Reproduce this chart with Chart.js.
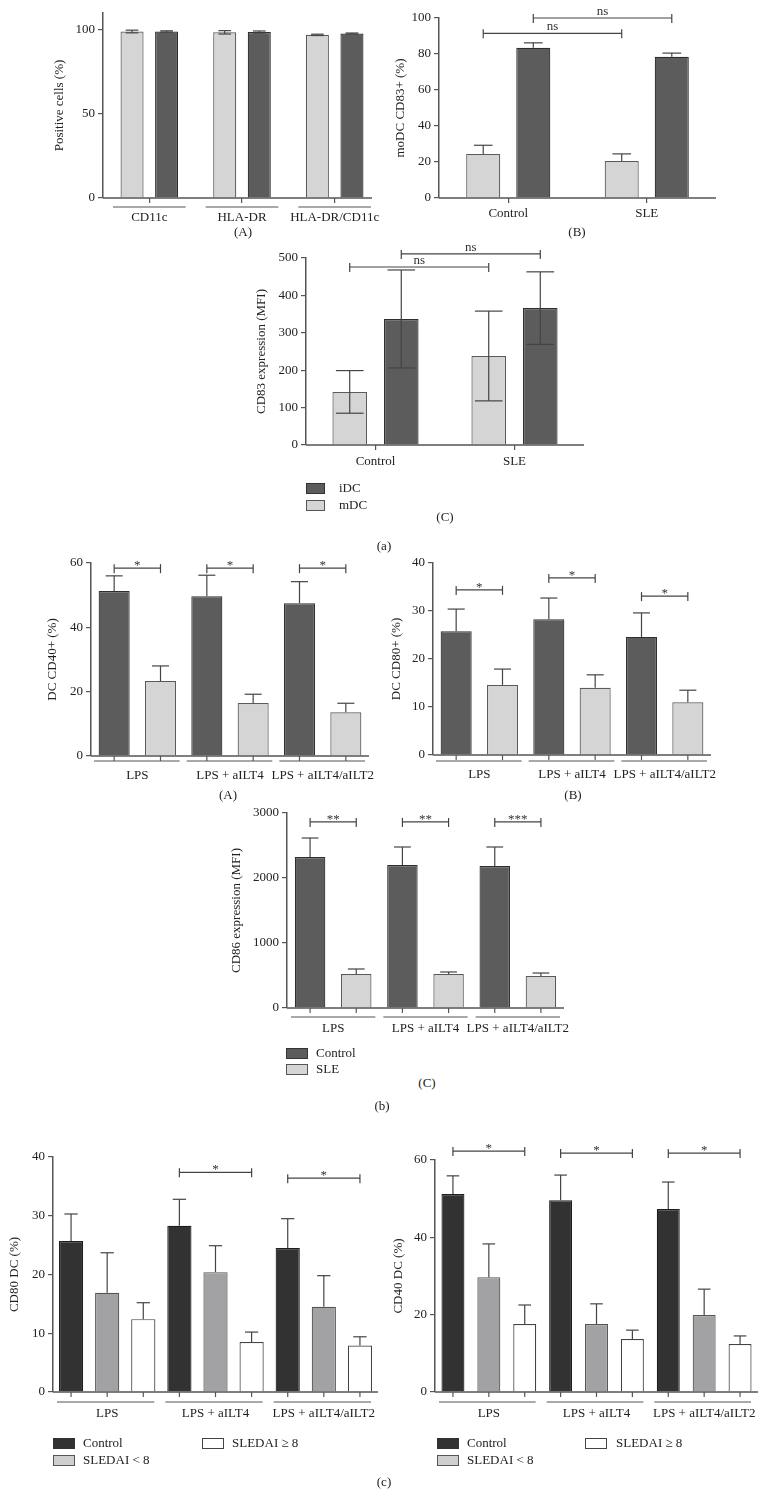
<!DOCTYPE html>
<html>
<head>
<meta charset="utf-8">
<script src="https://cdn.jsdelivr.net/npm/chart.js@4.4.1/dist/chart.umd.min.js"></script>
<style>
body{margin:0;background:#fff;width:768px;height:1510px;position:relative;overflow:hidden;font-family:'Liberation Serif','Times New Roman',serif;color:#222}
canvas{position:absolute}
.t{position:absolute;font-size:13px;transform:translate(-50%,-50%);white-space:nowrap;color:#222}
.lg{position:absolute;font-size:13px;white-space:nowrap;transform:translateY(-50%);color:#222}
.sw{position:absolute;box-sizing:border-box;border:1px solid #333;width:22px;height:11px}
</style>
</head>
<body>
<canvas id="aA"></canvas>
<canvas id="aB"></canvas>
<canvas id="aC"></canvas>
<canvas id="bA"></canvas>
<canvas id="bB"></canvas>
<canvas id="bC"></canvas>
<canvas id="cL"></canvas>
<canvas id="cR"></canvas>

<div class="t" style="left:243px;top:232px">(A)</div>
<div class="t" style="left:577px;top:232px">(B)</div>
<div class="t" style="left:445px;top:517px">(C)</div>
<div class="t" style="left:384px;top:546px">(a)</div>
<div class="t" style="left:228px;top:795px">(A)</div>
<div class="t" style="left:573px;top:795px">(B)</div>
<div class="t" style="left:427px;top:1083px">(C)</div>
<div class="t" style="left:382px;top:1106px">(b)</div>
<div class="t" style="left:384px;top:1482px">(c)</div>

<div class="sw" style="left:306px;top:483px;width:19px;background:#5c5c5c"></div>
<div class="lg" style="left:339px;top:488px">iDC</div>
<div class="sw" style="left:306px;top:500px;width:19px;background:#d5d5d5;border-color:#555"></div>
<div class="lg" style="left:339px;top:505px">mDC</div>

<div class="sw" style="left:286px;top:1048px;background:#5c5c5c"></div>
<div class="lg" style="left:316px;top:1053px">Control</div>
<div class="sw" style="left:286px;top:1064px;background:#d5d5d5;border-color:#555"></div>
<div class="lg" style="left:316px;top:1069px">SLE</div>

<div class="sw" style="left:53px;top:1438px;background:#323232"></div>
<div class="lg" style="left:83px;top:1443px">Control</div>
<div class="sw" style="left:53px;top:1455px;background:#cfcfcf;border-color:#555"></div>
<div class="lg" style="left:83px;top:1460px">SLEDAI &lt; 8</div>
<div class="sw" style="left:202px;top:1438px;background:#fff;border-color:#444"></div>
<div class="lg" style="left:232px;top:1443px">SLEDAI ≥ 8</div>

<div class="sw" style="left:437px;top:1438px;background:#323232"></div>
<div class="lg" style="left:467px;top:1443px">Control</div>
<div class="sw" style="left:437px;top:1455px;background:#cfcfcf;border-color:#555"></div>
<div class="lg" style="left:467px;top:1460px">SLEDAI &lt; 8</div>
<div class="sw" style="left:585px;top:1438px;background:#fff;border-color:#444"></div>
<div class="lg" style="left:616px;top:1443px">SLEDAI ≥ 8</div>

<script>
// (a)(A) phenotype
const phenoLabels = ['CD11c', 'HLA-DR', 'HLA-DR/CD11c'];
const phenoMdc = [99, 98.5, 97];
const phenoMdcErr = [0.8, 1, 0.4];
const phenoIdc = [99, 98.7, 97.8];
const phenoIdcErr = [0.4, 0.6, 0.3];

// (a)(B) and (a)(C)
const donorLabels = ['Control', 'SLE'];
const cd83PctMdc = [24.5, 20.5];
const cd83PctMdcErr = [4.8, 4];
const cd83PctIdc = [83.5, 78.5];
const cd83PctIdcErr = [2.7, 2];
const cd83MfiMdc = [142, 238];
const cd83MfiMdcErr = [57, 120];
const cd83MfiIdc = [337, 366];
const cd83MfiIdcErr = [131, 97];

// (b) and (c)
const stimLabels = ['LPS', 'LPS + aILT4', 'LPS + aILT4/aILT2'];
const cd40Control = [51.3, 49.7, 47.5];
const cd40ControlErr = [4.7, 6.5, 6.7];
const cd40Sle = [23.3, 16.5, 13.6];
const cd40SleErr = [4.7, 2.7, 2.8];
const cd80Control = [25.8, 28.3, 24.6];
const cd80ControlErr = [4.6, 4.4, 5.0];
const cd80Sle = [14.6, 14.0, 11.0];
const cd80SleErr = [3.3, 2.7, 2.5];
const cd86Control = [2323, 2200, 2185];
const cd86ControlErr = [292, 277, 292];
const cd86Sle = [523, 523, 492];
const cd86SleErr = [77, 31, 46];

const cd80cControl = [25.7, 28.3, 24.5];
const cd80cControlErr = [4.6, 4.5, 5.0];
const cd80cLow = [16.9, 20.4, 14.5];
const cd80cLowErr = [6.8, 4.5, 5.3];
const cd80cHigh = [12.4, 8.5, 7.9];
const cd80cHighErr = [2.8, 1.7, 1.5];
const cd40cControl = [51.2, 49.6, 47.3];
const cd40cControlErr = [4.7, 6.5, 7.0];
const cd40cLow = [29.7, 17.6, 19.9];
const cd40cLowErr = [8.6, 5.2, 6.7];
const cd40cHigh = [17.6, 13.7, 12.4];
const cd40cHighErr = [4.9, 2.3, 2.1];

// y ticks: [max, step]
const ticksAA = [110, 50];
const ticksAB = [100, 20];
const ticksAC = [500, 100];
const ticksBA = [60, 20];
const ticksBB = [40, 10];
const ticksBC = [3000, 1000];
const ticksCL = [40, 10];
const ticksCR = [60, 20];

const SERIF = "'Liberation Serif', 'Times New Roman', serif";
const INK = '#222';
const AXIS = '#555';
const DARK = '#5c5c5c', DARK_LINE = '#2e2e2e';
const LIGHT = '#d5d5d5', LIGHT_LINE = '#5a5a5a';
const CTRL = '#323232', CTRL_LINE = '#1e1e1e';
const MID = '#a2a2a4', MID_LINE = '#555';
const WHITE = '#ffffff', WHITE_LINE = '#444';

function line(ctx, x1, y1, x2, y2) {
    ctx.beginPath();
    ctx.moveTo(x1, y1);
    ctx.lineTo(x2, y2);
    ctx.stroke();
}

const decor = {
    id: 'decor',
    afterDatasetsDraw(chart, args, opts) {
        const ctx = chart.ctx;
        const y = chart.scales.y;
        const area = chart.chartArea;
        ctx.save();
        ctx.strokeStyle = '#444';
        ctx.lineWidth = 1.2;

        // error bars, and one tick under each bar
        chart.data.datasets.forEach((ds, i) => {
            chart.getDatasetMeta(i).data.forEach((bar, j) => {
                const v = ds.data[j], e = ds.err[j];
                const cap = bar.width * opts.cap / 2;
                const yt = y.getPixelForValue(v + e);
                const yb = opts.both ? y.getPixelForValue(v - e) : bar.y;
                line(ctx, bar.x, yb, bar.x, yt);
                line(ctx, bar.x - cap, yt, bar.x + cap, yt);
                if (opts.both) line(ctx, bar.x - cap, yb, bar.x + cap, yb);
                if (opts.barTicks) {
                    ctx.strokeStyle = AXIS;
                    line(ctx, bar.x, area.bottom, bar.x, area.bottom + 5);
                    ctx.strokeStyle = '#444';
                }
            });
        });

        // x baseline
        ctx.strokeStyle = AXIS;
        ctx.lineWidth = 1.5;
        line(ctx, area.left, area.bottom, area.right - (opts.trim || 0), area.bottom);

        // group lines under the axis
        if (opts.groupLine) {
            const g = opts.groupLine;
            const n = chart.data.labels.length;
            const w = (area.right - area.left) / n;
            ctx.lineWidth = 1.2;
            for (let k = 0; k < n; k++) {
                const x0 = area.left + k * w;
                line(ctx, x0 + g.inL, area.bottom + g.drop, x0 + w - g.inR, area.bottom + g.drop);
            }
        }

        // significance brackets
        ctx.strokeStyle = '#444';
        ctx.fillStyle = '#333';
        ctx.lineWidth = 1.2;
        ctx.font = '13px ' + SERIF;
        ctx.textAlign = 'center';
        ctx.textBaseline = 'alphabetic';
        (opts.brackets || []).forEach((b) => {
            const xa = chart.getDatasetMeta(b.from[0]).data[b.from[1]].x;
            const xb = chart.getDatasetMeta(b.to[0]).data[b.to[1]].x;
            const yy = y.getPixelForValue(b.y);
            line(ctx, xa, yy, xb, yy);
            line(ctx, xa, yy - 4, xa, yy + 5);
            line(ctx, xb, yy - 4, xb, yy + 5);
            ctx.fillText(b.text, (xa + xb) / 2, b.text === 'ns' ? yy - 3 : yy + 1);
        });
        ctx.restore();
    }
};

function panel(id, p) {
    const W = p.yWidth, PT = 45, PR = 25, H = 50;
    const canvas = document.getElementById(id);
    const w = Math.round(W + (p.right - p.left) + PR);
    const h = Math.round(PT + (p.zero - p.top) + H);
    canvas.width = w;
    canvas.height = h;
    canvas.style.width = w + 'px';
    canvas.style.height = h + 'px';
    canvas.style.left = (p.left - W) + 'px';
    canvas.style.top = (p.top - PT) + 'px';
    return new Chart(canvas, {
        type: 'bar',
        data: {
            labels: p.labels,
            datasets: p.series.map((s) => ({
                label: s.label,
                data: s.data,
                err: s.err,
                backgroundColor: s.bg,
                borderColor: s.line,
                borderWidth: 1.2,
                categoryPercentage: p.catPct,
                barPercentage: p.barPct
            }))
        },
        options: {
            responsive: false,
            animation: false,
            devicePixelRatio: 1,
            layout: { padding: { left: 0, top: PT, right: PR, bottom: 0 } },
            plugins: {
                legend: { display: false },
                tooltip: { enabled: false },
                decor: {
                    both: p.both, cap: p.cap || 0.55, barTicks: !p.catTicks,
                    trim: p.trim, groupLine: p.groupLine, brackets: p.brackets
                }
            },
            scales: {
                x: {
                    afterFit: (s) => { s.height = H; },
                    grid: { display: !!p.catTicks, drawOnChartArea: false, offset: false, tickLength: 5, color: AXIS, lineWidth: 1.2 },
                    border: { display: false },
                    ticks: { color: INK, font: { family: SERIF, size: 13 }, padding: p.labelPad, maxRotation: 0, minRotation: 0, autoSkip: false }
                },
                y: {
                    min: 0,
                    max: p.ticks[0],
                    afterFit: (s) => { s.width = W; },
                    afterBuildTicks: (s) => { s.ticks = s.ticks.filter((t) => t.value % p.ticks[1] === 0); },
                    grid: { drawOnChartArea: false, tickLength: 5, color: AXIS, lineWidth: 1.2 },
                    border: { color: AXIS, width: 1.5 },
                    ticks: {
                        stepSize: p.ticks[1], color: INK, font: { family: SERIF, size: 13 }, padding: 3,
                        callback: (v) => String(v)
                    },
                    title: { display: true, text: p.title, color: INK, font: { family: SERIF, size: 13 }, padding: 0 }
                }
            }
        },
        plugins: [decor]
    });
}

panel('aA', {
    left: 103, right: 380.5, top: 13, zero: 198, yWidth: 51, ticks: ticksAA,
    title: 'Positive cells (%)', labels: phenoLabels, catPct: 0.746, barPct: 0.667,
    catTicks: true, labelPad: 7, both: true, trim: 9,
    groupLine: { drop: 9, inL: 10, inR: 10 },
    series: [
        { label: 'mDC', data: phenoMdc, err: phenoMdcErr, bg: LIGHT, line: LIGHT_LINE },
        { label: 'iDC', data: phenoIdc, err: phenoIdcErr, bg: DARK, line: DARK_LINE }
    ]
});

panel('aB', {
    left: 439, right: 715.6, top: 18, zero: 198, yWidth: 46, ticks: ticksAB,
    title: 'moDC CD83+ (%)', labels: donorLabels, catPct: 0.723, barPct: 0.68,
    catTicks: true, labelPad: 3,
    brackets: [
        { from: [0, 0], to: [0, 1], y: 91.5, text: 'ns' },
        { from: [1, 0], to: [1, 1], y: 100, text: 'ns' }
    ],
    series: [
        { label: 'mDC', data: cd83PctMdc, err: cd83PctMdcErr, bg: LIGHT, line: LIGHT_LINE },
        { label: 'iDC', data: cd83PctIdc, err: cd83PctIdcErr, bg: DARK, line: DARK_LINE }
    ]
});

panel('aC', {
    left: 306, right: 583.6, top: 258, zero: 445, yWidth: 52, ticks: ticksAC,
    title: 'CD83 expression (MFI)', labels: donorLabels, catPct: 0.742, barPct: 0.67,
    catTicks: true, labelPad: 4, both: true, cap: 0.8,
    brackets: [
        { from: [0, 0], to: [0, 1], y: 476, text: 'ns' },
        { from: [1, 0], to: [1, 1], y: 511, text: 'ns' }
    ],
    series: [
        { label: 'mDC', data: cd83MfiMdc, err: cd83MfiMdcErr, bg: LIGHT, line: LIGHT_LINE },
        { label: 'iDC', data: cd83MfiIdc, err: cd83MfiIdcErr, bg: DARK, line: DARK_LINE }
    ]
});

function pairBrackets(ys, texts, last) {
    return ys.map((v, k) => ({ from: [0, k], to: [last, k], y: v, text: texts[k] }));
}

panel('bA', {
    left: 91, right: 368.8, top: 563, zero: 756, yWidth: 46, ticks: ticksBA,
    title: 'DC CD40+ (%)', labels: stimLabels, catPct: 1.0, barPct: 0.67,
    labelPad: 7, groupLine: { drop: 5, inL: 3, inR: 4 },
    brackets: pairBrackets([58.4, 58.4, 58.4], ['*', '*', '*'], 1),
    series: [
        { label: 'Control', data: cd40Control, err: cd40ControlErr, bg: DARK, line: DARK_LINE },
        { label: 'SLE', data: cd40Sle, err: cd40SleErr, bg: LIGHT, line: LIGHT_LINE }
    ]
});

panel('bB', {
    left: 433, right: 710.5, top: 563, zero: 755, yWidth: 44, ticks: ticksBB,
    title: 'DC CD80+ (%)', labels: stimLabels, catPct: 1.0, barPct: 0.67,
    labelPad: 7, groupLine: { drop: 6, inL: 3, inR: 4 },
    brackets: pairBrackets([34.4, 36.9, 33.1], ['*', '*', '*'], 1),
    series: [
        { label: 'Control', data: cd80Control, err: cd80ControlErr, bg: DARK, line: DARK_LINE },
        { label: 'SLE', data: cd80Sle, err: cd80SleErr, bg: LIGHT, line: LIGHT_LINE }
    ]
});

panel('bC', {
    left: 287, right: 564, top: 813, zero: 1008, yWidth: 58, ticks: ticksBC,
    title: 'CD86 expression (MFI)', labels: stimLabels, catPct: 1.0, barPct: 0.66,
    labelPad: 8, groupLine: { drop: 9, inL: 4, inR: 4 },
    brackets: pairBrackets([2862, 2862, 2862], ['**', '**', '***'], 1),
    series: [
        { label: 'Control', data: cd86Control, err: cd86ControlErr, bg: DARK, line: DARK_LINE },
        { label: 'SLE', data: cd86Sle, err: cd86SleErr, bg: LIGHT, line: LIGHT_LINE }
    ]
});

panel('cL', {
    left: 53, right: 378, top: 1157, zero: 1392, yWidth: 46, ticks: ticksCL,
    title: 'CD80 DC (%)', labels: stimLabels, catPct: 1.0, barPct: 0.67,
    labelPad: 9, groupLine: { drop: 10, inL: 4, inR: 7 },
    brackets: [
        { from: [0, 1], to: [2, 1], y: 37.4, text: '*' },
        { from: [0, 2], to: [2, 2], y: 36.4, text: '*' }
    ],
    series: [
        { label: 'Control', data: cd80cControl, err: cd80cControlErr, bg: CTRL, line: CTRL_LINE },
        { label: 'SLEDAI < 8', data: cd80cLow, err: cd80cLowErr, bg: MID, line: MID_LINE },
        { label: 'SLEDAI ≥ 8', data: cd80cHigh, err: cd80cHighErr, bg: WHITE, line: WHITE_LINE }
    ]
});

panel('cR', {
    left: 435, right: 758, top: 1160, zero: 1392, yWidth: 44, ticks: ticksCR,
    title: 'CD40 DC (%)', labels: stimLabels, catPct: 1.0, barPct: 0.64,
    labelPad: 9, groupLine: { drop: 10, inL: 4, inR: 7 },
    brackets: pairBrackets([62.3, 61.8, 61.8], ['*', '*', '*'], 2),
    series: [
        { label: 'Control', data: cd40cControl, err: cd40cControlErr, bg: CTRL, line: CTRL_LINE },
        { label: 'SLEDAI < 8', data: cd40cLow, err: cd40cLowErr, bg: MID, line: MID_LINE },
        { label: 'SLEDAI ≥ 8', data: cd40cHigh, err: cd40cHighErr, bg: WHITE, line: WHITE_LINE }
    ]
});
</script>
</body>
</html>
